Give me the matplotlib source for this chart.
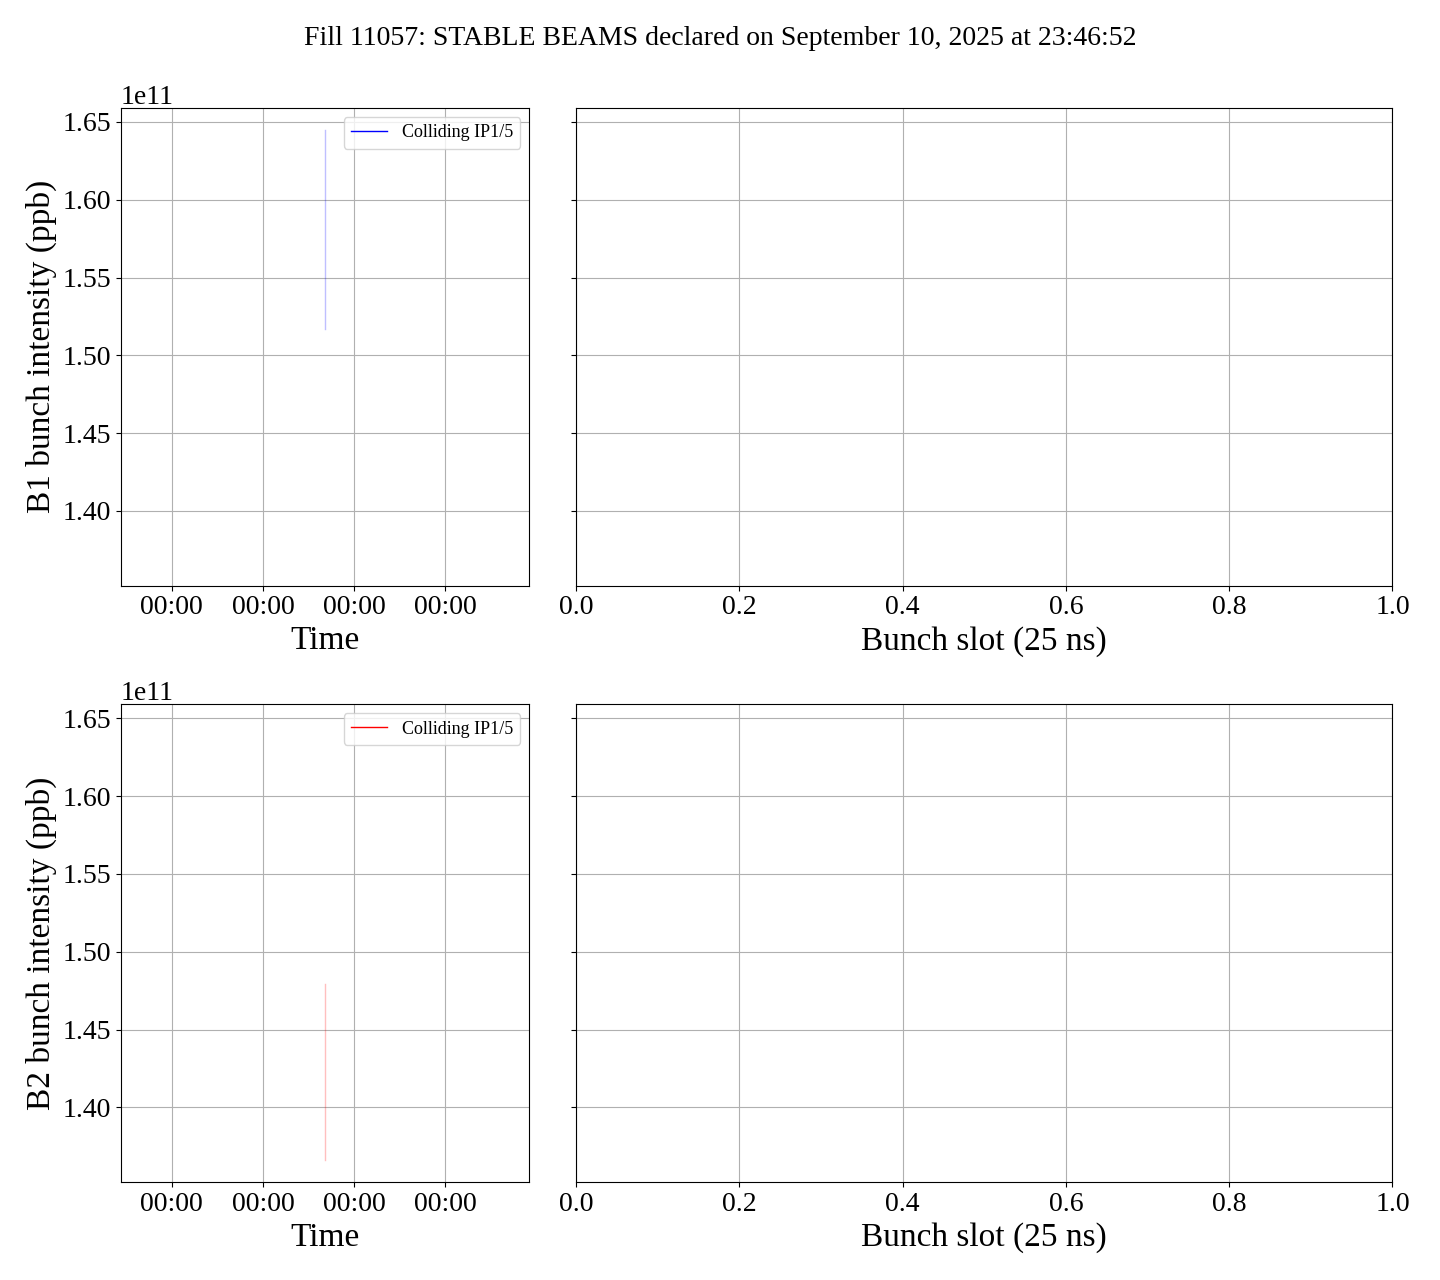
import datetime
import numpy as np
import matplotlib
matplotlib.use("Agg")
import matplotlib.pyplot as plt
import matplotlib.dates as mdates

plt.rcParams['font.family'] = ['Liberation Serif', 'DejaVu Serif']

title = "Fill 11057: STABLE BEAMS declared on September 10, 2025 at 23:46:52"

# single acquisition time, intensity spread of colliding bunches
t_acq = [datetime.datetime(2025, 9, 10, 16, 21), datetime.datetime(2025, 9, 10, 16, 21)]
b1_intensity = [1.517e11, 1.645e11]
b2_intensity = [1.366e11, 1.479e11]
legend_label = "Colliding IP1/5"

fig, axes = plt.subplots(2, 2, figsize=(14.4, 12.8), dpi=100, sharey=True,
                         gridspec_kw={'width_ratios': [1, 2]})
fig.subplots_adjust(left=0.084, right=0.967, top=0.9156, bottom=0.0766,
                    hspace=0.249, wspace=0.0767)

for row, (vals, col, bname) in enumerate([(b1_intensity, 'blue', 'B1'),
                                          (b2_intensity, 'red', 'B2')]):
    ax = axes[row, 0]
    ax.plot(t_acq, vals, color=col, alpha=0.25, lw=1)
    ax.plot([], [], color=col, lw=1, label=legend_label)
    ax.legend(loc='upper right', fontsize=13)
    center = mdates.date2num(t_acq[0])
    ax.set_xlim(center - 2.24, center + 2.24)
    ax.xaxis.set_major_locator(mdates.DayLocator())
    ax.xaxis.set_major_formatter(mdates.DateFormatter('%H:%M'))
    ax.set_xlabel("Time", fontsize=24)
    ax.set_ylabel(f"{bname} bunch intensity (ppb)", fontsize=24)
    ax.tick_params(labelsize=20)
    ax.yaxis.get_offset_text().set_fontsize(20)
    ax.grid(True)

    ax2 = axes[row, 1]
    ax2.set_xlim(0, 1)
    ax2.set_xlabel("Bunch slot (25 ns)", fontsize=24)
    ax2.tick_params(labelsize=20)
    ax2.grid(True)

fig.suptitle(title, fontsize=20, y=0.980)
fig.savefig("out.png")
